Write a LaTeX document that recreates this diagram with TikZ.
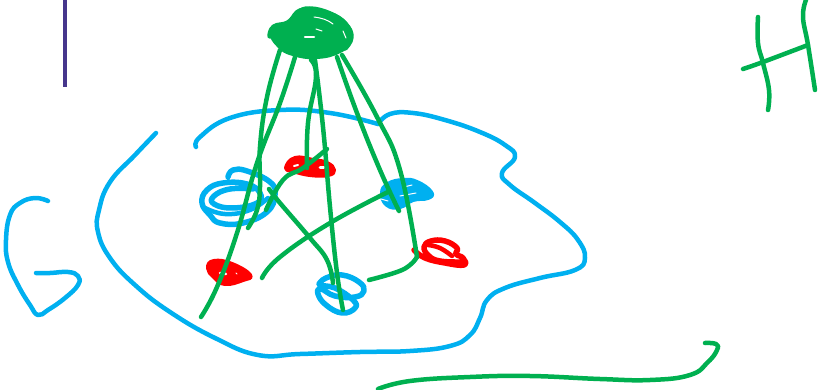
\documentclass[tikz,border=0pt]{standalone}
\definecolor{inkgreen}{HTML}{00B050}
\definecolor{inkblue}{HTML}{00B0F0}
\definecolor{inkred}{HTML}{FF0000}
\definecolor{inkpurple}{HTML}{46368C}
\tikzset{
  pen/.style={line width=#1,line cap=round,line join=round},
  pen/.default=4.5pt,
  gs/.style={pen,draw=inkgreen},
  bs/.style={pen,draw=inkblue},
  rs/.style={pen,draw=inkred},
  bscrib/.style={pen=5.5pt,draw=inkblue},
  rscrib/.style={pen=5.5pt,draw=inkred},
  gscrib/.style={pen=5.5pt,draw=inkgreen},
  slit/.style={draw=white,line width=1pt,line cap=round},
}
\newcommand{\ink}[2]{\draw[#1] plot[smooth,tension=0.75] coordinates {#2};}
\newcommand{\blob}[2]{\fill[#1,draw=#1,line width=4pt,line join=round] plot[smooth cycle,tension=0.8] coordinates {#2};}
\begin{document}
\begin{tikzpicture}[x=1pt,y=-1pt]
\useasboundingbox (0,0) rectangle (819,390);
\clip (0,0) rectangle (819,390);
% purple bar
\draw[pen=4.5pt,draw=inkpurple,line cap=butt] (65,0) -- (65,87);
% G
\ink{bs}{(48,201)(35,198)(20,203)(10,215)(6,240)(8,262)(18,285)(30,305)(38,315)(48,310)(65,298)(78,285)(78,276)(68,272)(50,273)(36,273)}
% big blue outline
\ink{bs}{(156,133)(135,155)(110,182)(99,210)(98,232)(110,258)(135,285)(170,312)(215,338)(258,355)(300,354)(360,352)(410,351)(450,346)(470,335)(480,318)(487,300)(505,288)(540,278)(575,270)(585,258)(578,240)(560,222)(535,203)(510,185)(502,173)(515,157)(505,145)(480,132)(445,120)(413,113)(390,114)(378,124)}
\ink{bs}{(378,124)(330,113)(280,110)(230,118)(200,137)(196,147)}
% blue scribble left
\ink{bscrib}{(228,177)(233,170)(247,171)(270,182)(275,195)(267,212)(243,223)(220,223)(210,215)(202,203)(207,190)(223,183)(247,184)(260,193)(257,203)(233,208)(214,204)(214,196)(230,189)(253,189)}
\ink{bs}{(205,208)(225,214)(250,210)(268,198)}
% blue scribble right
\blob{inkblue}{(382,193)(388,184)(403,180)(417,182)(431,192)(428,198)(413,200)(400,207)(387,205)}
\draw[slit] (400,196) -- (416,193);
\draw[slit] (404,187) -- (412,185);
\draw[slit] (381,199) -- (388,201);
% blue scribble bottom
\ink{bscrib}{(319,284)(326,278)(342,275)(359,282)(364,291)(355,297)(335,296)(321,289)(318,294)(326,305)(342,313)(355,308)(353,300)(335,288)(320,286)}
% red blobs
\blob{inkred}{(286,168)(295,158)(313,160)(327,163)(334,170)(328,175)(310,175)(293,171)}
\draw[slit,line width=2pt] (294,166) -- (298,165);
\draw[slit,line width=3pt] (320,168) -- (324,168);
\blob{inkred}{(208,268)(214,261)(232,264)(250,275)(243,280)(225,284)(214,277)}
\draw[slit,line width=2.5pt] (220,273) -- (226,274);
\draw[slit] (236,273) -- (237,274);
% red right scribble
\ink{rscrib}{(414,250)(425,258)(445,263)(464,265)(463,258)(456,254)(457,248)(445,241)(431,241)(424,247)(429,256)(440,261)(460,262)}
\ink{rs}{(428,245)(440,248)(452,256)}
% green top scribble
\blob{inkgreen}{(271,33)(276,27)(290,23)(297,12)(310,10)(333,15)(348,27)(350,40)(340,51)(317,57)(293,54)(279,46)}
\ink{gscrib}{(270,36)(274,27)(288,23)(298,13)(310,9)(330,14)(345,24)(351,37)(345,48)}
\draw[slit,line width=2.5pt] (305,37) -- (314,37);
\draw[slit] (314,17) .. controls (322,18) and (328,20) .. (333,24);
\draw[slit] (343,31) -- (346,38);
\draw[slit] (316,29) -- (322,31);
% green legs
\ink{gs}{(280,50)(267,97)(260,147)(260,187)(257,210)(248,228)}
\ink{gs}{(295,57)(280,103)(257,163)(237,233)(217,287)(201,317)}
\ink{gs}{(311,60)(316,77)(308,123)(307,168)}
\ink{gs}{(315,60)(323,127)(330,207)(337,273)(343,310)}
\ink{gs}{(337,57)(357,113)(380,170)(399,211)}
\ink{gs}{(342,55)(377,117)(400,170)(417,257)}
\ink{gs}{(417,257)(410,265)(397,272)(369,280)}
% green connectors
\ink{gs}{(327,149)(303,168)(283,180)(266,210)}
\ink{gs}{(269,189)(280,203)(310,238)(327,260)(333,283)}
\ink{gs}{(262,278)(280,257)(330,223)(388,192)}
% green bottom stroke
\ink{gs}{(378,389)(410,381)(470,377)(530,376)(600,379)(650,380)(690,375)(708,362)(717,350)(716,344)(705,343)}
% H
\ink{gs}{(758,17)(758,43)(763,63)(769,90)(768,110)}
\ink{gs}{(743,69)(763,62)(808,45)}
\ink{gs}{(806,0)(803,17)(808,45)(815,90)}
\end{tikzpicture}
\end{document}
